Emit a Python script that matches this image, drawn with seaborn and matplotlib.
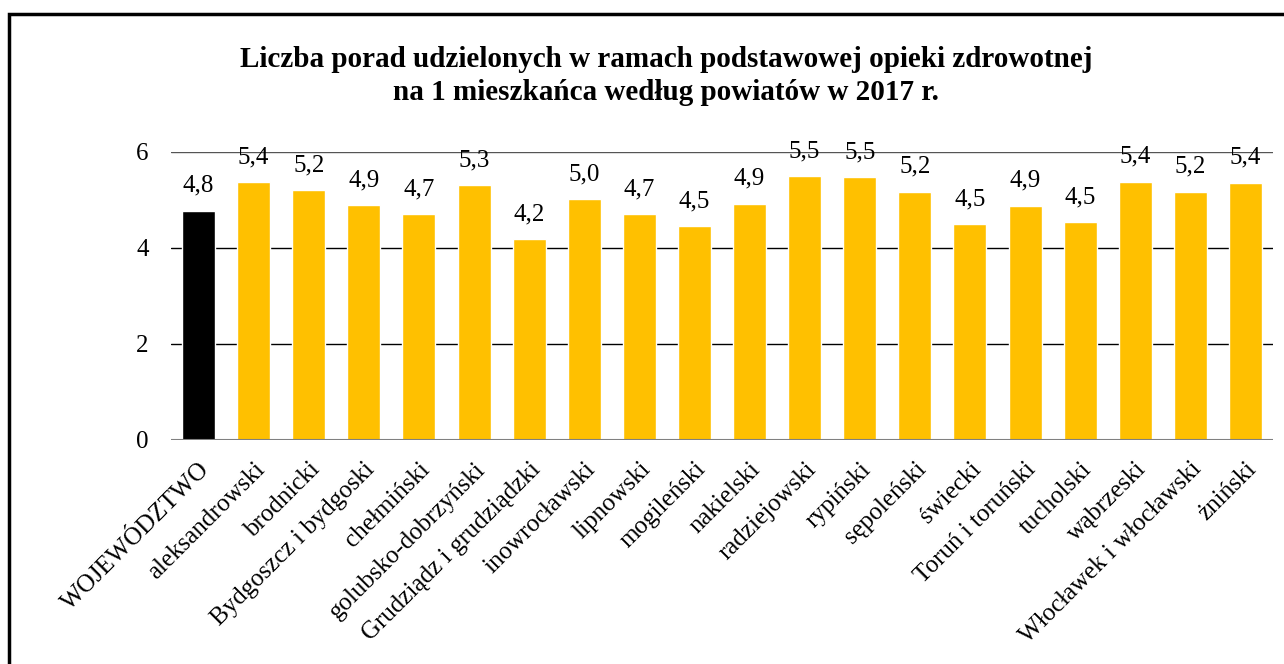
import matplotlib
matplotlib.use("Agg")
import matplotlib.pyplot as plt
import seaborn as sns
import pandas as pd
from matplotlib.patches import Rectangle

categories = ["WOJEWÓDZTWO", "aleksandrowski", "brodnicki", "Bydgoszcz i bydgoski",
              "chełmiński", "golubsko-dobrzyński", "Grudziądz i grudziądzki",
              "inowrocławski", "lipnowski", "mogileński", "nakielski", "radziejowski",
              "rypiński", "sępoleński", "świecki", "Toruń i toruński", "tucholski",
              "wąbrzeski", "Włocławek i włocławski", "żniński"]
values = [4.78, 5.37, 5.21, 4.89, 4.71, 5.31, 4.19, 5.02, 4.71, 4.46, 4.92, 5.49,
          5.47, 5.17, 4.49, 4.88, 4.54, 5.38, 5.17, 5.36]
yticks = [0, 2, 4, 6]
title = "Liczba porad udzielonych w ramach podstawowej opieki zdrowotnej\nna 1 mieszkańca według powiatów w 2017 r."

sns.set_style("white")
plt.rcParams['font.family'] = ['Liberation Serif', 'DejaVu Serif']
plt.rcParams['text.color'] = 'black'
plt.rcParams['xtick.color'] = 'black'
plt.rcParams['ytick.color'] = 'black'
plt.rcParams['axes.labelcolor'] = 'black'

df = pd.DataFrame({"cat": categories, "val": values})
colors = ["#000000"] + ["#FFC000"] * (len(categories) - 1)

fig = plt.figure(figsize=(12.84, 6.64), dpi=100)
ax = fig.add_axes([171/1284, 1 - 440/664, (1273-171)/1284, (440-152)/664])
sns.barplot(data=df, x="cat", y="val", hue="cat", palette=colors, legend=False,
            width=0.6, ax=ax, saturation=1, zorder=3)

ax.set_ylim(0, 6)
ax.set_xlim(-0.5, len(categories) - 0.5)
ax.set_yticks(yticks)
ax.set_yticklabels([str(t) for t in yticks], fontsize=18, color="black")
for t in yticks[1:]:
    ax.axhline(t, color="#000000" if t < 6 else "#555555", lw=1, zorder=1)
ax.axhline(0, color="#808080", lw=1.5, zorder=4)
for s in ax.spines.values():
    s.set_visible(False)
ax.tick_params(axis="y", length=0, pad=16)
ax.tick_params(axis="x", length=0, pad=13)
ax.set_xlabel("")
ax.set_ylabel("")
ax.set_xticks(range(len(categories)))
ax.set_xticklabels(categories, rotation=45, ha="right", rotation_mode="anchor",
                   fontsize=18, color="black")

for i, v in enumerate(values):
    ax.annotate(f"{v:.1f}".replace(".", ","), (i, v), xytext=(0, 10),
                textcoords="offset points", ha="center", va="bottom",
                fontsize=18, color="black")

fig.text(0.519, 1 - 76/664, title, ha="center", va="center", fontsize=21,
         fontweight="bold", linespacing=1.3, color="black")

fig.patches.append(Rectangle((9/1284, -0.01), 1.0, 1 - 14/664 + 0.01, transform=fig.transFigure,
                             fill=False, edgecolor="black", lw=2.5, zorder=10))

fig.savefig("out.png", dpi=100, facecolor="white")
